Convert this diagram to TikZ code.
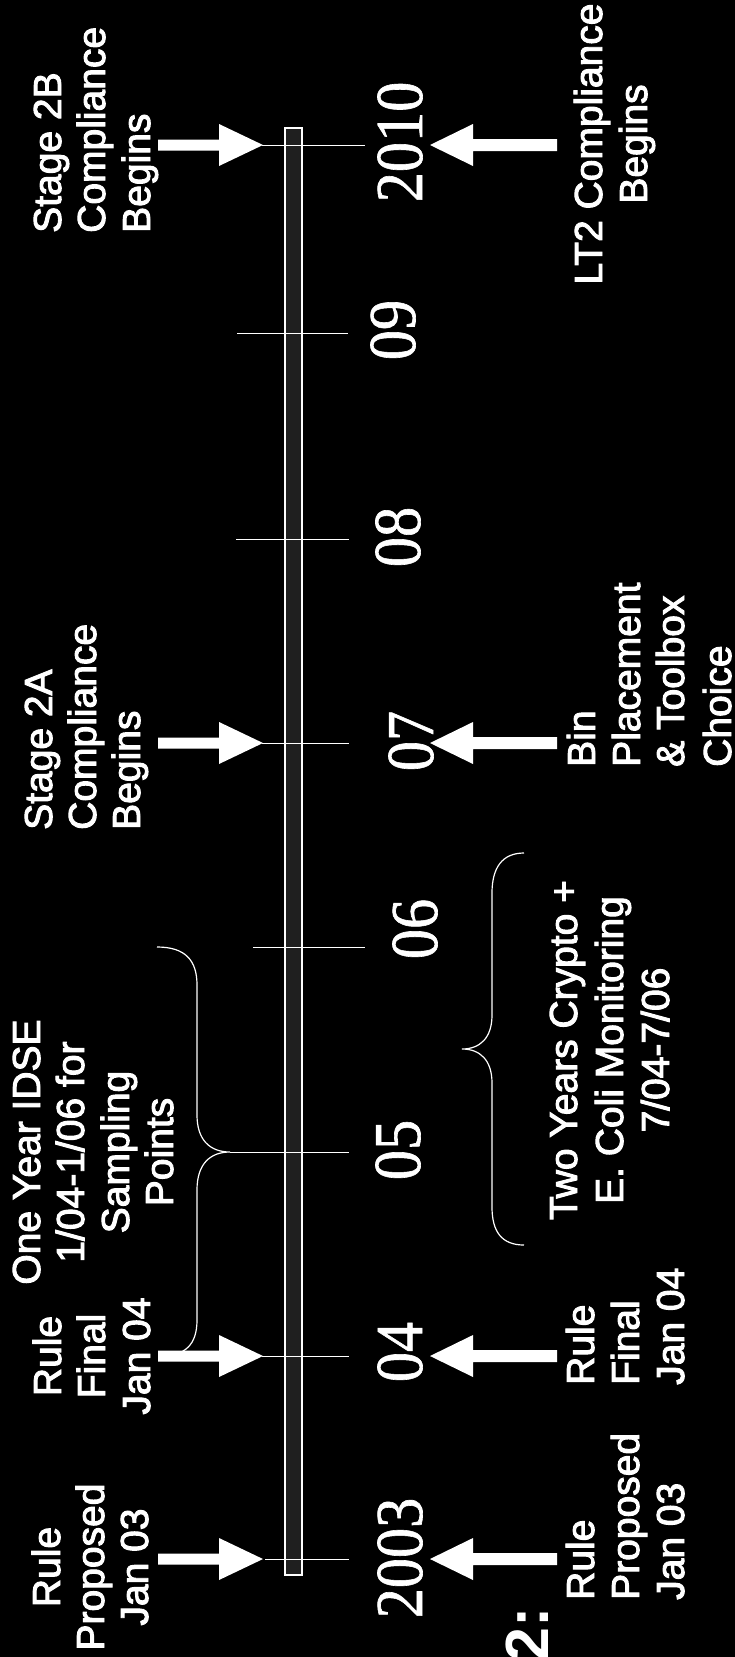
\documentclass[tikz,border=0pt]{standalone}
\usepackage{fontspec}
\setmainfont{Liberation Sans}
\newfontfamily\lblfont[FakeBold=2.5]{Liberation Sans}
\newfontfamily\yearfont[FakeBold=1]{Liberation Serif}
\usetikzlibrary{calc}

\begin{document}
\begin{tikzpicture}[x=1pt,y=-1pt,
  lbl/.style={rotate=90, inner sep=0pt, text=white, font=\lblfont\fontsize{39}{44}\selectfont},
  yr/.style={rotate=90, inner sep=0pt, text=white, anchor=base,
             font=\yearfont\fontsize{67}{70}\selectfont},
  tickline/.style={draw=white, line width=1pt},
  bracket/.style={draw=white, line width=1.2pt},
  barbox/.style={draw=white, line width=1.2pt, fill=white!12!black},
  blockarrow/.style={fill=white}]

% page
\fill[black] (0,0) rectangle (735,1657);
\useasboundingbox (0,0) rectangle (735,1657);

% timeline bar
\draw[barbox] (285,128) rectangle (302,1575);

% year ticks
\foreach \n/\yy/\xl/\xr in {10/145/262/365, 09/333/237/348, 08/539/236/349,
    07/743/262/349, 06/947/253/365, 05/1152/230/349, 04/1356/262/349, 03/1559/265/349} {
  \coordinate (tl\n) at (\xl,\yy);
  \coordinate (tr\n) at (\xr,\yy);
  \draw[tickline] (tl\n) -- (tr\n);
}

% block arrows pointing at the bar from both sides
\foreach \yy in {145,743,1356,1559} {
  \begin{scope}[shift={(0,\yy)}]
    \fill[blockarrow] (158,-5.5) -- (219,-5.5) -- (219,-21) -- (263,0)
      -- (219,21) -- (219,5.5) -- (158,5.5) -- cycle;
    \fill[blockarrow] (557,-6) -- (473,-6) -- (473,-21) -- (430,0)
      -- (473,21) -- (473,6) -- (557,6) -- cycle;
  \end{scope}
}

% brackets
\draw[bracket] (157,947) .. controls (185,947) and (197,960) .. (197,985)
  -- (197,1115) .. controls (197,1140) and (210,1152) .. (tl05)
  .. controls (210,1152) and (197,1164) .. (197,1190)
  -- (197,1320) .. controls (197,1345) and (185,1356) .. (160,1356);
\coordinate (cb) at (462,1049);
\draw[bracket] (524,853) .. controls (502,853) and (492,868) .. (492,893)
  -- (492,1015) .. controls (492,1038) and (480,1049) .. (cb)
  .. controls (480,1049) and (492,1060) .. (492,1083)
  -- (492,1207) .. controls (492,1232) and (502,1245) .. (524,1245);

% years
\node[yr] (y10) at (422,142)  {\scalebox{0.9}[1]{2010}};
\node[yr] (y09) at (415,330)  {\scalebox{0.9}[1]{09}};
\node[yr] (y08) at (420,537)  {\scalebox{0.9}[1]{08}};
\node[yr] (y07) at (433,741)  {\scalebox{0.9}[1]{07}};
\node[yr] (y06) at (437,929)  {\scalebox{0.9}[1]{06}};
\node[yr] (y05) at (420,1150) {\scalebox{0.9}[1]{05}};
\node[yr] (y04) at (422,1352) {\scalebox{0.9}[1]{04}};
\node[yr] (y03) at (422,1558) {\scalebox{0.9}[1]{2003}};

% labels on the left
\node[lbl,anchor=base] (rp1) at (60,1567)  {Rule};
\node[lbl,anchor=base] (rp2) at (104,1567) {Proposed};
\node[lbl,anchor=base] (rp3) at (148,1567) {Jan 03};

\node[lbl,anchor=base] (rf1) at (61,1356)  {Rule};
\node[lbl,anchor=base] (rf2) at (105,1356) {Final};
\node[lbl,anchor=base] (rf3) at (150,1356) {Jan 04};

\node[lbl,anchor=base] (id1) at (40,1152)  {One Year IDSE};
\node[lbl,anchor=base] (id2) at (84,1152)  {1/04-1/06 for};
\node[lbl,anchor=base] (id3) at (129,1152) {Sampling};
\node[lbl,anchor=base] (id4) at (173,1152) {Points};

\node[lbl,anchor=base west] (sa1) at (52,830)  {Stage 2A};
\node[lbl,anchor=base west] (sa2) at (96,830)  {Compliance};
\node[lbl,anchor=base west] (sa3) at (140,830) {Begins};

\node[lbl,anchor=base west] (sb1) at (61,233)  {Stage 2B};
\node[lbl,anchor=base west] (sb2) at (105,233) {Compliance};
\node[lbl,anchor=base west] (sb3) at (150,233) {Begins};

% labels on the right
\node[lbl,anchor=base west] (rr1) at (594,1600) {Rule};
\node[lbl,anchor=base west] (rr2) at (639,1600) {Proposed};
\node[lbl,anchor=base west] (rr3) at (684,1600) {Jan 03};

\node[lbl,anchor=base west] (fr1) at (594,1385) {Rule};
\node[lbl,anchor=base west] (fr2) at (639,1385) {Final};
\node[lbl,anchor=base west] (fr3) at (684,1385) {Jan 04};

\node[lbl,anchor=base] (cr1) at (577,1050) {Two Years Crypto +};
\node[lbl,anchor=base] (cr2) at (623,1050) {E. Coli Monitoring};
\node[lbl,anchor=base] (cr3) at (669,1050) {7/04-7/06};

\node[lbl,anchor=base west] (bp1) at (595,767) {Bin};
\node[lbl,anchor=base west] (bp2) at (640,767) {Placement};
\node[lbl,anchor=base west] (bp3) at (684,767) {\& Toolbox};
\node[lbl,anchor=base west] (bp4) at (731,767) {Choice};

\node[lbl,anchor=base] (lt1) at (602,144) {LT2 Compliance};
\node[lbl,anchor=base] (lt2) at (647,144) {Begins};

% figure number, partly cut by the page edge
\node[rotate=90, inner sep=0pt, text=white, anchor=base east,
      font=\bfseries\fontsize{61}{64}\selectfont] (fig) at (548,1607) {2:};
\end{tikzpicture}
\end{document}
